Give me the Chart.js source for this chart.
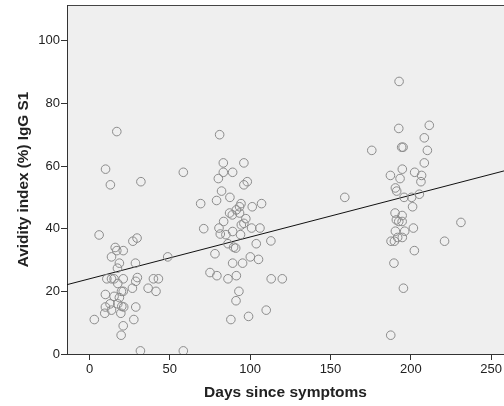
<!DOCTYPE html>
<html>
<head>
<meta charset="utf-8">
<script src="https://cdn.jsdelivr.net/npm/chart.js@4"></script>
<style>
  html, body { margin: 0; padding: 0; background: #fff; }
  #wrap { width: 504px; height: 406px; }
</style>
</head>
<body>
<div id="wrap"><canvas id="chart"></canvas></div>
<script>
// days since symptoms and avidity index (%) per sample
const days = [
  3, 6, 10, 17, 13, 32, 16, 17, 21, 13.7, 18.6, 17.4, 27, 29.6, 28.6,
  10.8, 13.7, 15.3, 21, 17.6, 29.8, 28.8, 26.7, 19.9, 21, 9.9, 15.3, 18.6,
  9.9, 12.8, 13.7, 17.6, 20.1, 21.3, 19.5, 9.5, 28.8, 27.6, 21, 19.7, 31.7,
  36.5, 39.8, 42.9, 41.4, 48.7, 58.4, 58.4,
  69.2, 71.1, 81, 80.2, 83.3, 83.3, 82.2, 79.1, 87.4, 89.1, 96.1, 98.2, 96.1,
  107.1, 101.3, 93.4, 94.3, 91.4, 87.2, 88.9, 93.4, 97.3, 96.1, 94.5, 83.5,
  80.6, 81.4, 84.9, 89.1, 94, 100.9, 106.1, 103.8, 112.9, 86.2, 89.7, 91,
  78.1, 89.1, 95.3, 100.1, 105.2, 75, 79.3, 86.2, 91.4, 113.1, 120, 93,
  91.2, 99, 88, 110,
  158.9, 175.7, 192.7, 192.5, 195.2, 194.3, 211.5, 208.4, 210.3, 208.4,
  194.7, 187.3, 193.3, 202.4, 206.7, 206.3, 190.4, 191.2, 195.8, 200.5,
  205.3, 201.1, 190.2, 194.6, 191, 192.5, 194.6, 190.4, 196.2, 201.6, 191.8,
  194.7, 187.7, 189.8, 202.2, 189.5, 195.4, 187.5, 221, 231.2
];
const avidity = [
  11, 38, 59, 71, 54, 55, 34, 33, 33, 31, 29, 27.4, 36, 37, 29,
  24, 24, 24, 24, 22.5, 24.4, 23.2, 21, 20, 20, 19, 18.4, 18,
  15, 16, 14, 16, 15.2, 15, 13, 13, 15, 11, 9, 6, 1,
  21, 24, 24, 20, 31, 58, 1,
  48, 40, 70, 56, 61, 58, 52, 49, 50, 58, 61, 55, 54,
  48, 47, 47, 48, 46, 45, 44.4, 45, 43.2, 41.7, 41.2, 42.3,
  40.2, 38.3, 38.1, 39.1, 38.1, 40.2, 40.2, 35.2, 36.1, 35.2, 34.1, 33.8,
  32, 29, 29, 31, 30.2, 26, 25, 24, 25, 24, 24, 20,
  17, 12, 11, 14,
  50, 65, 87, 72, 66, 66, 73, 69, 65, 61,
  59, 57, 56, 58, 57, 55, 53, 52, 50, 50,
  51, 47, 45, 44.2, 42.8, 42.3, 42.3, 39.2, 39.2, 40.2, 37.2,
  37.2, 36, 36, 33, 29, 21, 6, 36, 42
];

// fit line: avidity = intercept + slope * days
const intercept = 24;
const slope = 0.1335;

const xTicks = [0, 50, 100, 150, 200, 250];
const yTicks = [0, 20, 40, 60, 80, 100];
const xMin = -14, xMax = 258;
const yMin = 0, yMax = 111.4;

const points = days.map((d, i) => ({ x: d, y: avidity[i] }));
const fitLine = [
  { x: xMin, y: intercept + slope * xMin },
  { x: xMax, y: intercept + slope * xMax }
];

const plotBg = {
  id: 'plotBg',
  beforeDraw(chart) {
    const { ctx, chartArea: a } = chart;
    ctx.save();
    ctx.fillStyle = '#efefef';
    ctx.fillRect(a.left, a.top, a.right - a.left, a.bottom - a.top);
    ctx.strokeStyle = '#444';
    ctx.lineWidth = 1;
    ctx.beginPath();
    ctx.moveTo(a.left, a.top + 0.5);
    ctx.lineTo(a.right, a.top + 0.5);
    ctx.stroke();
    ctx.restore();
  }
};

const font = { family: "'Liberation Sans', Arial, sans-serif", size: 13 };

new Chart(document.getElementById('chart'), {
  type: 'scatter',
  data: {
    datasets: [
      {
        data: points,
        pointStyle: 'circle',
        pointRadius: 4.3,
        pointBorderWidth: 1,
        borderColor: '#8c8c8c',
        backgroundColor: 'rgba(0,0,0,0)'
      },
      {
        type: 'line',
        data: fitLine,
        borderColor: '#111',
        borderWidth: 1,
        pointRadius: 0,
        fill: false
      }
    ]
  },
  plugins: [plotBg],
  options: {
    responsive: true,
    maintainAspectRatio: false,
    animation: false,
    layout: { autoPadding: false, padding: { top: 5, right: 0, left: 0, bottom: 0 } },
    plugins: { legend: { display: false }, tooltip: { enabled: false } },
    scales: {
      x: {
        type: 'linear',
        min: xMin,
        max: xMax,
        afterBuildTicks: s => { s.ticks = xTicks.map(v => ({ value: v })); },
        afterFit: s => { s.height = 52; s.paddingLeft = 0; s.paddingRight = 0; },
        grid: { drawOnChartArea: false, drawTicks: true, tickLength: 6, color: '#333' },
        border: { display: true, color: '#333', width: 1 },
        ticks: { color: '#222', font: font, padding: 2, maxRotation: 0 },
        title: {
          display: true,
          text: 'Days since symptoms',
          color: '#222',
          font: { family: font.family, size: 15.5, weight: 'bold' },
          padding: { top: 2, bottom: 4 }
        }
      },
      y: {
        type: 'linear',
        min: yMin,
        max: yMax,
        afterBuildTicks: s => { s.ticks = yTicks.map(v => ({ value: v })); },
        afterFit: s => { s.width = 67; s.paddingTop = 0; s.paddingBottom = 0; },
        grid: { drawOnChartArea: false, drawTicks: true, tickLength: 6, color: '#333' },
        border: { display: true, color: '#333', width: 1 },
        ticks: { color: '#222', font: font, padding: 1 },
        title: {
          display: true,
          text: 'Avidity index (%) IgG S1',
          color: '#222',
          font: { family: font.family, size: 15.3, weight: 'bold' },
          padding: { top: 15, bottom: 4 }
        }
      }
    }
  }
});
</script>
</body>
</html>
